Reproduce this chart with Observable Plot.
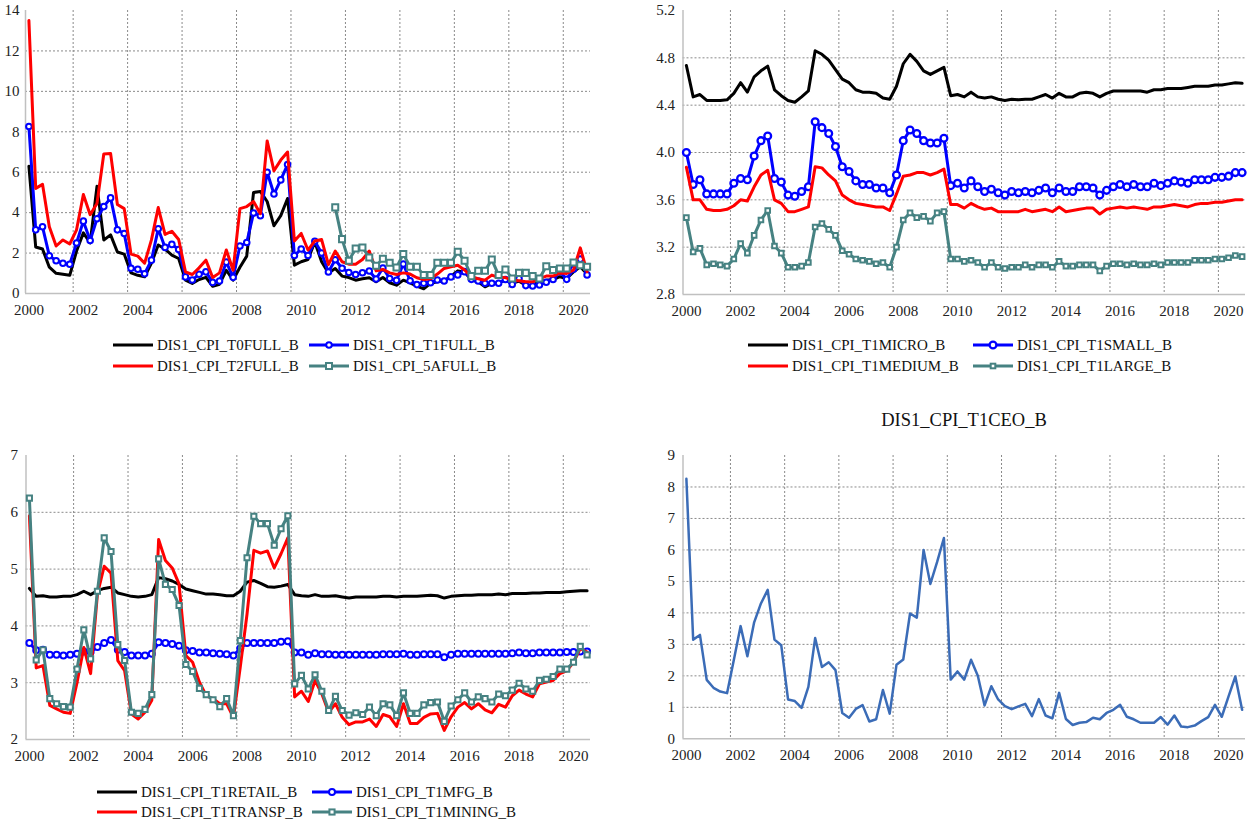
<!DOCTYPE html>
<html><head><meta charset="utf-8">
<script src="https://cdn.jsdelivr.net/npm/d3@7"></script>
<script src="https://cdn.jsdelivr.net/npm/@observablehq/plot@0.6"></script>
<style>
body{margin:0;background:#fff;font-family:"Liberation Serif","Tinos","Times New Roman","DejaVu Serif",serif;}
#root{position:relative;width:1247px;height:822px;overflow:hidden;background:#fff}
.panel{position:absolute}
.item{position:absolute;display:flex;align-items:center;height:20px;font-size:15px;color:#111;white-space:nowrap}
.item svg{margin-right:4px}
.title{position:absolute;font-size:18.5px;color:#111;white-space:nowrap;transform:translate(-50%,-50%)}
</style></head>
<body><div id="root"></div>
<script>
// ---------- categories ----------
const yearList = [2000,2001,2002,2003,2004,2005,2006,2007,2008,2009,2010,2011,2012,2013,2014,2015,2016,2017,2018,2019,2020];
const quarterNames = ["Q1","Q2","Q3","Q4"];
const periods = yearList.flatMap(y => quarterNames.map(q => `${y}${q}`)).slice(0, 83);

// ---------- panel 1 ----------
const t0full = [6.3,2.3,2.2,1.3,1.0,0.95,0.9,2.1,3.0,2.5,5.3,2.65,2.9,2.05,1.95,1.02,0.9,0.83,1.5,2.4,2.2,1.9,1.73,0.66,0.5,0.69,0.8,0.36,0.46,1.15,0.66,1.3,1.85,5.0,5.05,4.55,3.35,3.85,4.7,1.4,1.57,1.68,2.55,1.57,1.02,1.24,0.86,0.79,0.66,0.73,0.78,0.58,0.79,0.53,0.41,0.66,0.53,0.36,0.23,0.5,0.58,0.63,0.86,1.12,1.07,0.66,0.58,0.33,0.5,0.53,0.66,0.5,0.61,0.41,0.41,0.58,0.66,0.69,0.83,0.74,1.07,1.32,0.96];
const t1full = [8.26,3.15,3.3,1.87,1.62,1.5,1.45,2.5,3.58,2.62,3.7,4.3,4.73,3.15,2.97,1.25,1.2,0.98,1.65,3.2,2.28,2.43,2.18,0.82,0.67,0.95,1.07,0.55,0.62,1.55,0.8,2.35,2.52,3.98,3.85,6.0,4.92,5.62,6.38,1.88,2.2,1.88,2.58,2.0,1.06,1.67,1.25,1.04,0.94,1.03,1.11,0.72,1.26,0.74,0.65,1.46,0.63,0.44,0.51,0.53,0.67,0.62,0.82,0.92,1.08,0.7,0.62,0.51,0.51,0.51,0.69,0.45,0.74,0.39,0.37,0.42,0.56,0.69,1.08,0.7,1.2,1.7,0.92];
const t2full = [13.5,5.2,5.4,3.3,2.35,2.65,2.45,3.15,4.9,3.9,4.45,6.9,6.93,4.4,4.2,1.95,1.85,1.5,2.65,4.25,2.92,3.08,2.67,1.07,0.94,1.27,1.65,0.79,1.02,2.15,1.15,4.2,4.3,4.55,3.95,7.55,6.07,6.6,7.0,2.6,2.97,2.15,2.6,2.67,1.43,2.1,1.57,1.45,1.45,1.68,2.1,1.12,1.19,1.02,0.94,1.02,0.96,0.78,0.69,0.73,0.96,1.24,1.32,1.4,1.16,0.83,0.73,0.66,0.91,0.79,0.79,0.66,0.63,0.58,0.58,0.74,0.86,0.86,1.02,0.99,1.16,2.26,1.07];
const full5a = [null,null,null,null,null,null,null,null,null,null,null,null,null,null,null,null,null,null,null,null,null,null,null,null,null,null,null,null,null,null,null,null,null,null,null,null,null,null,null,null,null,null,null,null,null,
  4.26,2.69,1.62,2.23,2.28,1.78,1.37,1.72,1.52,1.29,1.95,1.32,1.32,0.91,0.91,1.52,1.52,1.52,2.06,1.62,0.86,1.12,1.12,1.68,0.91,1.19,0.74,1.02,1.02,0.86,0.74,1.35,1.16,1.24,1.24,1.53,1.4,1.32];

// ---------- panel 2 ----------
const micro = [4.735,4.47,4.49,4.44,4.44,4.44,4.445,4.5,4.59,4.51,4.64,4.69,4.73,4.53,4.48,4.44,4.425,4.47,4.52,4.86,4.83,4.78,4.70,4.62,4.59,4.53,4.51,4.51,4.50,4.46,4.45,4.56,4.75,4.83,4.77,4.69,4.66,4.69,4.72,4.48,4.49,4.47,4.51,4.47,4.46,4.47,4.45,4.44,4.45,4.445,4.45,4.45,4.47,4.49,4.46,4.50,4.47,4.47,4.50,4.51,4.50,4.47,4.50,4.52,4.52,4.52,4.52,4.52,4.51,4.53,4.53,4.54,4.54,4.54,4.55,4.56,4.56,4.56,4.57,4.57,4.58,4.59,4.585];
const small = [4.0,3.73,3.77,3.65,3.65,3.65,3.65,3.74,3.78,3.77,3.97,4.1,4.14,3.78,3.75,3.64,3.63,3.67,3.71,4.26,4.21,4.16,4.05,3.88,3.84,3.76,3.73,3.73,3.70,3.70,3.66,3.81,4.1,4.19,4.16,4.1,4.08,4.08,4.12,3.72,3.74,3.70,3.76,3.71,3.67,3.69,3.66,3.64,3.67,3.66,3.67,3.66,3.68,3.70,3.66,3.70,3.67,3.67,3.71,3.71,3.70,3.64,3.68,3.71,3.73,3.71,3.73,3.71,3.71,3.74,3.72,3.74,3.76,3.75,3.74,3.77,3.77,3.77,3.79,3.79,3.80,3.83,3.83];
const medium = [3.876,3.60,3.60,3.52,3.51,3.51,3.52,3.55,3.60,3.59,3.71,3.81,3.85,3.60,3.57,3.50,3.50,3.52,3.54,3.88,3.87,3.81,3.76,3.64,3.60,3.57,3.56,3.55,3.54,3.54,3.51,3.65,3.80,3.81,3.83,3.83,3.81,3.83,3.86,3.56,3.56,3.53,3.57,3.54,3.52,3.53,3.50,3.50,3.50,3.50,3.52,3.50,3.51,3.52,3.50,3.54,3.50,3.51,3.52,3.53,3.53,3.48,3.52,3.53,3.54,3.53,3.54,3.53,3.52,3.54,3.54,3.55,3.56,3.55,3.54,3.56,3.57,3.57,3.58,3.58,3.59,3.60,3.60];
const large = [3.45,3.16,3.19,3.05,3.06,3.05,3.04,3.10,3.23,3.15,3.30,3.43,3.51,3.21,3.15,3.03,3.03,3.04,3.07,3.37,3.40,3.35,3.30,3.17,3.14,3.10,3.09,3.08,3.06,3.07,3.03,3.20,3.43,3.49,3.45,3.46,3.42,3.49,3.50,3.10,3.10,3.08,3.09,3.07,3.03,3.07,3.03,3.02,3.03,3.03,3.05,3.03,3.05,3.05,3.03,3.08,3.04,3.04,3.05,3.05,3.05,3.00,3.04,3.06,3.06,3.05,3.06,3.05,3.05,3.06,3.05,3.07,3.07,3.07,3.07,3.09,3.09,3.09,3.10,3.10,3.11,3.13,3.12];

// ---------- panel 3 ----------
const retail = [4.66,4.52,4.53,4.51,4.51,4.52,4.52,4.55,4.61,4.55,4.62,4.66,4.68,4.58,4.55,4.52,4.51,4.52,4.55,4.85,4.83,4.79,4.73,4.65,4.62,4.59,4.56,4.56,4.55,4.53,4.53,4.61,4.77,4.80,4.75,4.69,4.68,4.70,4.73,4.55,4.53,4.52,4.55,4.52,4.52,4.53,4.51,4.49,4.51,4.51,4.51,4.51,4.52,4.52,4.51,4.52,4.52,4.52,4.53,4.54,4.53,4.49,4.52,4.53,4.54,4.54,4.55,4.55,4.55,4.56,4.55,4.57,4.57,4.57,4.58,4.58,4.59,4.59,4.59,4.60,4.61,4.62,4.62];
const mfg = [3.70,3.57,3.58,3.49,3.49,3.48,3.49,3.51,3.55,3.54,3.63,3.70,3.75,3.58,3.54,3.48,3.48,3.48,3.51,3.71,3.70,3.68,3.65,3.57,3.56,3.53,3.53,3.52,3.51,3.50,3.48,3.60,3.70,3.70,3.70,3.70,3.70,3.72,3.73,3.53,3.53,3.49,3.52,3.50,3.50,3.49,3.49,3.49,3.49,3.49,3.49,3.49,3.50,3.50,3.50,3.51,3.49,3.49,3.50,3.50,3.50,3.45,3.49,3.51,3.51,3.51,3.51,3.51,3.51,3.51,3.51,3.52,3.53,3.52,3.52,3.53,3.53,3.53,3.53,3.54,3.54,3.55,3.55];
const transp = [5.94,3.26,3.30,2.60,2.54,2.48,2.46,3.0,3.62,3.16,4.56,5.05,4.93,3.39,3.21,2.45,2.36,2.48,2.69,5.52,5.15,5.02,4.74,3.48,3.36,3.01,2.77,2.72,2.63,2.63,2.39,3.27,4.21,5.33,5.28,5.32,5.02,5.27,5.55,2.75,2.85,2.67,3.04,2.80,2.48,2.63,2.39,2.26,2.31,2.31,2.36,2.23,2.44,2.40,2.23,2.63,2.28,2.28,2.39,2.45,2.46,2.16,2.40,2.57,2.65,2.54,2.63,2.52,2.47,2.62,2.57,2.77,2.87,2.80,2.75,2.98,3.01,3.04,3.16,3.21,3.36,3.60,3.54];
const mining = [6.25,3.40,3.58,2.72,2.63,2.58,2.57,3.24,3.93,3.42,4.61,5.55,5.31,3.67,3.39,2.48,2.46,2.53,2.79,5.18,4.73,4.64,4.36,3.32,3.20,2.90,2.79,2.70,2.58,2.72,2.42,3.74,5.20,5.93,5.80,5.80,5.42,5.71,5.94,2.98,3.13,2.89,3.14,2.85,2.51,2.76,2.51,2.43,2.47,2.44,2.57,2.42,2.63,2.61,2.42,2.82,2.46,2.46,2.61,2.65,2.66,2.32,2.59,2.70,2.82,2.66,2.75,2.72,2.66,2.80,2.77,2.87,2.99,2.89,2.85,3.04,3.06,3.11,3.24,3.24,3.36,3.64,3.49];

// ---------- panel 4 ----------
const ceo = [8.26,3.15,3.3,1.87,1.62,1.5,1.45,2.5,3.58,2.62,3.7,4.3,4.73,3.15,2.97,1.25,1.2,0.98,1.65,3.2,2.28,2.43,2.18,0.82,0.67,0.95,1.07,0.55,0.62,1.55,0.8,2.35,2.52,3.98,3.85,6.0,4.92,5.62,6.38,1.88,2.14,1.88,2.51,2.0,1.06,1.67,1.25,1.04,0.94,1.03,1.11,0.72,1.26,0.74,0.65,1.46,0.63,0.44,0.51,0.53,0.67,0.62,0.82,0.92,1.08,0.7,0.62,0.51,0.51,0.51,0.69,0.45,0.74,0.39,0.37,0.42,0.56,0.69,1.08,0.7,1.35,1.98,0.92];

// ---------- tick labels ----------
const ticks1 = [0,2,4,6,8,10,12,14];
const ticks2 = [2.8,3.2,3.6,4.0,4.4,4.8,5.2];
const ticks3 = [2,3,4,5,6,7];
const ticks4 = [0,1,2,3,4,5,6,7,8,9];

const FONT = '"Liberation Serif","Tinos","Times New Roman","DejaVu Serif",serif';
const BLACK = "#000000", RED = "#ff0000", BLUE = "#0000ff", TEAL = "#468282", STEEL = "#3b6cb7";
const GRID = "#8a8a8a", AXIS = "#c0c0c0";

const labelIdx = periods.map((p, i) => i).filter(i => periods[i].endsWith("Q1") && (+periods[i].slice(0, 4)) % 2 === 0);
const gridIdx = labelIdx.slice(1).map(i => i - 1.5);

const root = document.getElementById("root");

function panel(cfg) {
  const marks = [
    Plot.gridY(cfg.yTicks.slice(1, -1), {stroke: GRID, strokeOpacity: 1, strokeDasharray: "2,2", strokeWidth: 1}),
    Plot.gridX(gridIdx, {stroke: GRID, strokeOpacity: 1, strokeDasharray: "2,2", strokeWidth: 1}),
    Plot.ruleX([-0.5], {stroke: AXIS, strokeWidth: 1.5}),
    Plot.ruleY([cfg.yTicks[0]], {stroke: AXIS, strokeWidth: 1.5}),
    Plot.axisX(labelIdx, {label: null, tickSize: 0, tickPadding: 11, tickFormat: i => periods[i].slice(0, 4), fontSize: 15, fill: "#222"}),
    Plot.axisY(cfg.yTicks, {label: null, tickSize: 0, tickPadding: cfg.yPad, tickFormat: cfg.yFormat, fontSize: 15, fill: "#222"})
  ];
  for (const s of cfg.series) {
    const rows = s.values.map((v, i) => ({i, v})).filter(d => d.v != null);
    marks.push(Plot.line(rows, {x: "i", y: "v", stroke: s.color, strokeWidth: s.width, strokeLinejoin: "round"}));
    if (s.symbol) {
      marks.push(Plot.dot(rows, {x: "i", y: "v", symbol: s.symbol, r: s.r, fill: "white", stroke: s.color, strokeWidth: s.sw}));
    }
  }
  const svg = Plot.plot({
    width: cfg.width, height: cfg.height,
    marginLeft: cfg.ml, marginRight: cfg.mr, marginTop: cfg.mt, marginBottom: cfg.mb,
    style: {fontFamily: FONT, fontSize: "15px", color: "#222", background: "transparent", overflow: "visible"},
    x: {type: "linear", domain: [-0.5, periods.length - 0.5], label: null},
    y: {domain: [cfg.yTicks[0], cfg.yTicks[cfg.yTicks.length - 1]], label: null},
    marks
  });
  const div = document.createElement("div");
  div.className = "panel";
  div.style.left = cfg.left + "px";
  div.style.top = cfg.top + "px";
  div.appendChild(svg);
  root.appendChild(div);
}

function legendItem(x, y, s) {
  const el = document.createElement("div");
  el.className = "item";
  el.style.left = x + "px";
  el.style.top = (y - 10) + "px";
  let marker = "";
  if (s.symbol === "circle") marker = `<circle cx="20" cy="10" r="${s.r}" fill="white" stroke="${s.color}" stroke-width="${s.sw}"/>`;
  if (s.symbol === "square") { const h = s.r * 0.886; marker = `<rect x="${20 - h}" y="${10 - h}" width="${2 * h}" height="${2 * h}" fill="white" stroke="${s.color}" stroke-width="${s.sw}"/>`; }
  el.innerHTML = `<svg width="40" height="20"><line x1="0" y1="10" x2="40" y2="10" stroke="${s.color}" stroke-width="3"/>${marker}</svg><span>${s.name}</span>`;
  root.appendChild(el);
}

// Panel 1
const s1 = [
  {name: "DIS1_CPI_T0FULL_B", values: t0full, color: BLACK, width: 3},
  {name: "DIS1_CPI_T1FULL_B", values: t1full, color: BLUE, width: 3, symbol: "circle", r: 2.8, sw: 2},
  {name: "DIS1_CPI_T2FULL_B", values: t2full, color: RED, width: 3},
  {name: "DIS1_CPI_5AFULL_B", values: full5a, color: TEAL, width: 3, symbol: "square", r: 3.4, sw: 2}
];
panel({series: s1, yTicks: ticks1, yFormat: d => d, yPad: 6, width: 600, height: 320, ml: 25, mr: 10, mt: 10, mb: 27, left: 0, top: 0});
legendItem(113, 345, s1[0]); legendItem(309, 345, s1[1]);
legendItem(113, 366, s1[2]); legendItem(309, 366, s1[3]);

// Panel 2
const s2 = [
  {name: "DIS1_CPI_T1MICRO_B", values: micro, color: BLACK, width: 3},
  {name: "DIS1_CPI_T1SMALL_B", values: small, color: BLUE, width: 3, symbol: "circle", r: 3.4, sw: 2.3},
  {name: "DIS1_CPI_T1MEDIUM_B", values: medium, color: RED, width: 3},
  {name: "DIS1_CPI_T1LARGE_B", values: large, color: TEAL, width: 3, symbol: "square", r: 2.6, sw: 2}
];
panel({series: s2, yTicks: ticks2, yFormat: d3.format(".1f"), yPad: 8, width: 607, height: 320, ml: 42.5, mr: 2, mt: 10, mb: 26, left: 640, top: 0});
legendItem(748, 345, s2[0]); legendItem(973, 345, s2[1]);
legendItem(748, 366, s2[2]); legendItem(973, 366, s2[3]);

// Panel 3
const s3 = [
  {name: "DIS1_CPI_T1RETAIL_B", values: retail, color: BLACK, width: 3},
  {name: "DIS1_CPI_T1MFG_B", values: mfg, color: BLUE, width: 3, symbol: "circle", r: 3, sw: 2},
  {name: "DIS1_CPI_T1TRANSP_B", values: transp, color: RED, width: 3},
  {name: "DIS1_CPI_T1MINING_B", values: mining, color: TEAL, width: 3, symbol: "square", r: 2.9, sw: 2}
];
panel({series: s3, yTicks: ticks3, yFormat: d => d, yPad: 8, width: 600, height: 325, ml: 25.5, mr: 10, mt: 15, mb: 26, left: 0, top: 440});
legendItem(97, 792, s3[0]); legendItem(312, 792, s3[1]);
legendItem(97, 812, s3[2]); legendItem(312, 812, s3[3]);

// Panel 4
const s4 = [{name: "DIS1_CPI_T1CEO_B", values: ceo, color: STEEL, width: 2.5}];
panel({series: s4, yTicks: ticks4, yFormat: d => d, yPad: 8, width: 607, height: 325, ml: 42.5, mr: 2, mt: 15, mb: 26.7, left: 640, top: 440});
const title = document.createElement("div");
title.className = "title";
title.style.left = "964px"; title.style.top = "420px";
title.textContent = s4[0].name;
root.appendChild(title);
</script>
</body></html>
